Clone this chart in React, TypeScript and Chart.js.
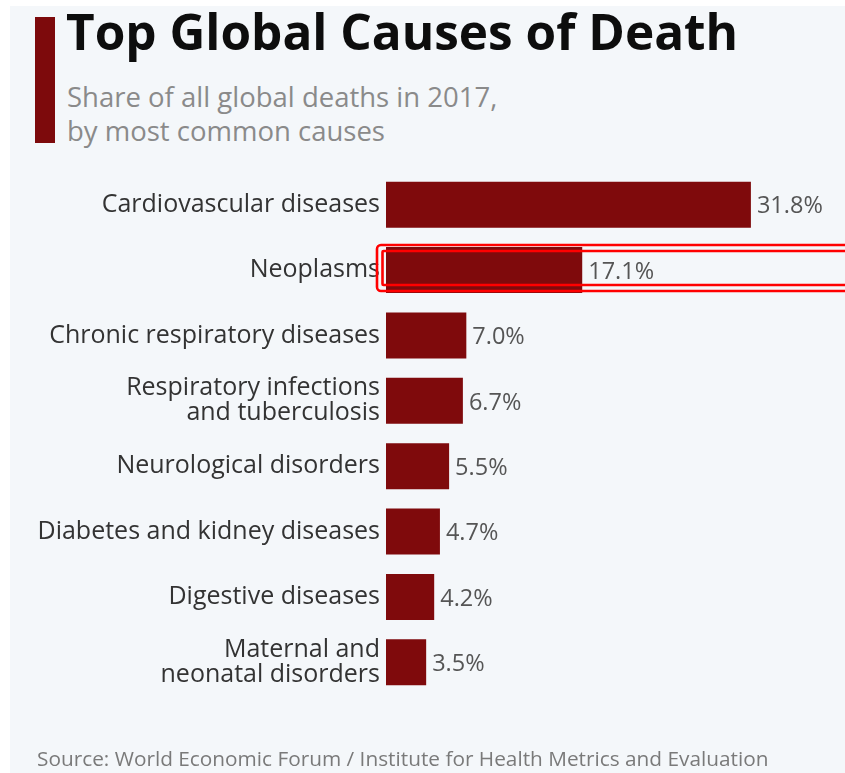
import React, { useEffect, useRef } from "react";
import { Chart, registerables } from "chart.js";

Chart.register(...registerables);

const categories: (string | string[])[] = [
  "Cardiovascular diseases",
  "Neoplasms",
  "Chronic respiratory diseases",
  ["Respiratory infections", "and tuberculosis"],
  "Neurological disorders",
  "Diabetes and kidney diseases",
  "Digestive diseases",
  ["Maternal and", "neonatal disorders"],
];
const shares: number[] = [31.8, 17.1, 7.0, 6.7, 5.5, 4.7, 4.2, 3.5];
const highlightedIndex = 1;

const titleText = "Top Global Causes of Death";
const subtitleLines = ["Share of all global deaths in 2017,", "by most common causes"];
const sourceText = "Source: World Economic Forum / Institute for Health Metrics and Evaluation";

const FONT = "'Open Sans', 'Noto Sans', sans-serif";
const BAR_COLOR = "#7f0a0c";

const valueLabelPlugin = {
  id: "valueLabels",
  afterDatasetsDraw(chart: any) {
    const ctx = chart.ctx;
    const meta = chart.getDatasetMeta(0);
    ctx.save();
    ctx.font = `23.5px ${FONT}`;
    ctx.fillStyle = "#555555";
    ctx.textAlign = "left";
    ctx.textBaseline = "middle";
    meta.data.forEach((el: any, i: number) => {
      const v = chart.data.datasets[0].data[i] as number;
      ctx.fillText(v.toFixed(1) + "%", el.x + 6, el.y + 2);
    });
    ctx.restore();
  },
};

function roundRect(ctx: CanvasRenderingContext2D, x: number, y: number, w: number, h: number, r: number) {
  ctx.beginPath();
  ctx.moveTo(x + r, y);
  ctx.lineTo(x + w - r, y);
  ctx.arcTo(x + w, y, x + w, y + r, r);
  ctx.lineTo(x + w, y + h - r);
  ctx.arcTo(x + w, y + h, x + w - r, y + h, r);
  ctx.lineTo(x + r, y + h);
  ctx.arcTo(x, y + h, x, y + h - r, r);
  ctx.lineTo(x, y + r);
  ctx.arcTo(x, y, x + r, y, r);
  ctx.closePath();
}

const highlightPlugin = {
  id: "highlightBox",
  afterDraw(chart: any) {
    const ctx = chart.ctx as CanvasRenderingContext2D;
    const el: any = chart.getDatasetMeta(0).data[highlightedIndex];
    if (!el) return;
    const left = chart.chartArea.left;
    const right = chart.width + 10;
    ctx.save();
    ctx.strokeStyle = "#ff0000";
    ctx.lineWidth = 2.6;
    roundRect(ctx, left - 9, el.y - 25, right - (left - 9), 46, 4);
    ctx.stroke();
    roundRect(ctx, left - 3.5, el.y - 19, right - (left - 3.5), 34, 1);
    ctx.stroke();
    ctx.restore();
  },
};

export default function App() {
  const canvasRef = useRef<HTMLCanvasElement | null>(null);

  useEffect(() => {
    if (!canvasRef.current) return;
    const chart = new Chart(canvasRef.current, {
      type: "bar",
      data: {
        labels: categories,
        datasets: [
          {
            data: shares,
            backgroundColor: BAR_COLOR,
            borderWidth: 0,
            barPercentage: 0.705,
            categoryPercentage: 1,
          },
        ],
      },
      options: {
        indexAxis: "y",
        responsive: false,
        animation: false,
        devicePixelRatio: 1,
        layout: { padding: { top: 172, bottom: 78, left: 0, right: 0 } },
        plugins: {
          legend: { display: false },
          tooltip: { enabled: false },
          title: { display: false },
        },
        scales: {
          x: {
            display: false,
            min: 0,
            max: 40,
          },
          y: {
            grid: { display: false, drawTicks: false },
            border: { display: false },
            ticks: {
              color: "#333333",
              padding: 6,
              font: { family: FONT, size: 25, lineHeight: 1.0 },
            },
            afterFit(scale: any) {
              scale.width = 386;
            },
          },
        },
      },
      plugins: [valueLabelPlugin, highlightPlugin],
    } as any);
    return () => chart.destroy();
  }, []);

  return (
    <div
      style={{
        position: "fixed",
        left: 0,
        top: 0,
        width: 845,
        height: 773,
        background: "#ffffff",
        overflow: "hidden",
        fontFamily: FONT,
      }}
    >
      <div
        style={{
          position: "absolute",
          left: 10,
          top: 6,
          width: 835,
          height: 767,
          background: "#f4f7fa",
        }}
      />
      <div
        style={{
          position: "absolute",
          left: 35,
          top: 17,
          width: 20,
          height: 126,
          background: "#7d0a0c",
        }}
      />
      <div
        style={{
          position: "absolute",
          left: 66,
          top: -3,
          fontSize: 49.5,
          fontWeight: 700,
          color: "#0d0d0d",
          whiteSpace: "nowrap",
          lineHeight: "normal",
        }}
      >
        {titleText}
      </div>
      <div
        style={{
          position: "absolute",
          left: 67,
          top: 80,
          fontSize: 27.5,
          color: "#8a8a8a",
          whiteSpace: "nowrap",
          lineHeight: "34px",
        }}
      >
        {subtitleLines.map((l, i) => (
          <div key={i}>{l}</div>
        ))}
      </div>
      <canvas
        ref={canvasRef}
        width={845}
        height={773}
        style={{ position: "absolute", left: 0, top: 0, width: 845, height: 773 }}
      />
      <div
        style={{
          position: "absolute",
          left: 37,
          top: 744,
          fontSize: 20.8,
          color: "#7a7a7a",
          whiteSpace: "nowrap",
          lineHeight: "normal",
        }}
      >
        {sourceText}
      </div>
    </div>
  );
}
